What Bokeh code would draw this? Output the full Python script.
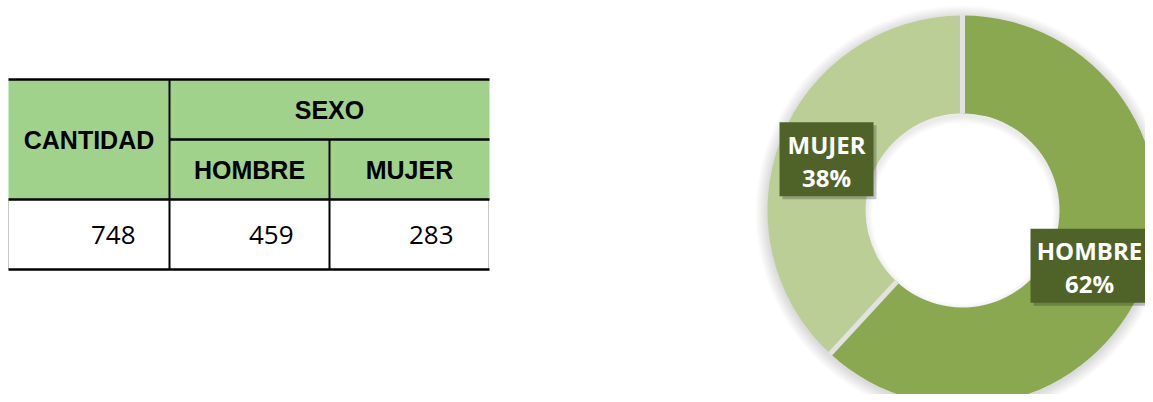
import math
from bokeh.plotting import figure
from bokeh.models import Range1d
from bokeh.core.properties import value
from bokeh.embed import file_html
from bokeh.resources import INLINE

# ---- data ----
categories = ["HOMBRE", "MUJER"]
counts = [459, 283]
total_count = 748
total_title = "CANTIDAD"
group_title = "SEXO"

# ---- styles ----
slice_colors = ["#8AA850", "#BACE96"]
header_green = "#A0D28C"
label_fill = "#4F6228"

W, H = 1145, 394
def X(px):
    return px
def Y(py):
    return H - py

p = figure(width=W, height=H, x_range=Range1d(0, W), y_range=Range1d(0, H),
           min_border=0, toolbar_location=None, output_backend="svg",
           x_axis_location=None, y_axis_location=None)
p.grid.visible = False
p.outline_line_color = None
p.background_fill_color = "white"
p.border_fill_color = "white"

# ---------------- table ----------------
tl, c1, c2, tr = 8, 169, 329, 489
r0, r1, r2, r3 = 79, 139, 199, 269

p.quad(left=[X(tl)], right=[X(tr)], top=[Y(r0)], bottom=[Y(r2)],
       fill_color=header_green, line_color=None)

p.segment(x0=[X(tl), X(tr - 1)], y0=[Y(r2), Y(r2)], x1=[X(tl), X(tr - 1)], y1=[Y(r3), Y(r3)],
          line_color="#C8C8C8", line_width=1)
p.segment(x0=[X(tl), X(c1), X(tl), X(tl)], y0=[Y(r0), Y(r1), Y(r2), Y(r3)],
          x1=[X(tr), X(tr), X(tr), X(tr)], y1=[Y(r0), Y(r1), Y(r2), Y(r3)],
          line_color="black", line_width=2.5)
p.segment(x0=[X(c1), X(c2)], y0=[Y(r0), Y(r1)], x1=[X(c1), X(c2)], y1=[Y(r3), Y(r3)],
          line_color="black", line_width=2)

hdr_font = value("Liberation Sans")
p.text(x=[X((tl + c1) / 2)], y=[Y((r0 + r2) / 2)], text=[total_title],
       text_align="center", text_baseline="middle", text_font=hdr_font,
       text_font_style="bold", text_font_size="25px", text_color="black")
p.text(x=[X((c1 + tr) / 2)], y=[Y((r0 + r1) / 2)], text=[group_title],
       text_align="center", text_baseline="middle", text_font=hdr_font,
       text_font_style="bold", text_font_size="25px", text_color="black")
p.text(x=[X((c1 + c2) / 2), X((c2 + tr) / 2)], y=[Y((r1 + r2) / 2)] * 2, text=categories,
       text_align="center", text_baseline="middle", text_font=hdr_font,
       text_font_style="bold", text_font_size="25px", text_color="black")
vals = [total_count] + counts
p.text(x=[X(c1 - 34), X(c2 - 36), X(tr - 36)], y=[Y((r2 + r3) / 2)] * 3,
       text=[str(v) for v in vals], text_align="right", text_baseline="middle",
       text_font=value("Open Sans"), text_font_size="26px", text_color="black")

# ---------------- donut ----------------
cx, cy = X(962), Y(210)
r_in, r_out = 97, 195

for k in range(1, 13):
    p.annulus(x=[cx], y=[cy - 2], inner_radius=r_out - 2, outer_radius=r_out + k,
              fill_color="black", fill_alpha=0.012, line_color=None)
for k in range(1, 8):
    p.annulus(x=[cx], y=[cy - 3], inner_radius=r_in - k, outer_radius=r_in + 3,
              fill_color="black", fill_alpha=0.012, line_color=None)

tot = sum(counts)
shares = [c / tot for c in counts]
starts, ends, cum = [], [], 0.0
for s in shares:
    starts.append(math.pi / 2 - 2 * math.pi * cum)
    cum += s
    ends.append(math.pi / 2 - 2 * math.pi * cum)

p.annular_wedge(x=[cx] * len(counts), y=[cy] * len(counts), inner_radius=r_in,
                outer_radius=r_out, start_angle=starts, end_angle=ends,
                direction="clock", fill_color=slice_colors, line_color=None)

p.segment(x0=[cx + r_in * math.cos(a) for a in starts],
          y0=[cy + r_in * math.sin(a) for a in starts],
          x1=[cx + (r_out + 1) * math.cos(a) for a in starts],
          y1=[cy + (r_out + 1) * math.sin(a) for a in starts],
          line_color="#E2E2E2", line_width=5)

r_mid = (r_in + r_out) / 2
mids = [(a + b) / 2 for a, b in zip(starts, ends)]
# keep label texts inside the plot's right edge
lx = [min(cx + r_mid * math.cos(m), W - 56) for m in mids]
ly = [cy + r_mid * math.sin(m) - 2 for m in mids]
bw = [118, 94]
bh = 74
p.rect(x=[x + 3 for x in lx], y=[y - 3 for y in ly], width=bw, height=bh,
       fill_color="black", fill_alpha=0.22, line_color=None)
p.rect(x=lx, y=ly, width=bw, height=bh, fill_color=label_fill, line_color=None)
pct = [f"{round(s * 100)}%" for s in shares]
lab_font = value("Open Sans")
p.text(x=lx, y=[y + 15 for y in ly], text=categories, text_align="center",
       text_baseline="middle", text_font=lab_font, text_font_style="bold",
       text_font_size="24px", text_color="white")
p.text(x=lx, y=[y - 18 for y in ly], text=pct, text_align="center",
       text_baseline="middle", text_font=lab_font, text_font_style="bold",
       text_font_size="24px", text_color="white")

open("out.html", "w").write(file_html(p, INLINE))
